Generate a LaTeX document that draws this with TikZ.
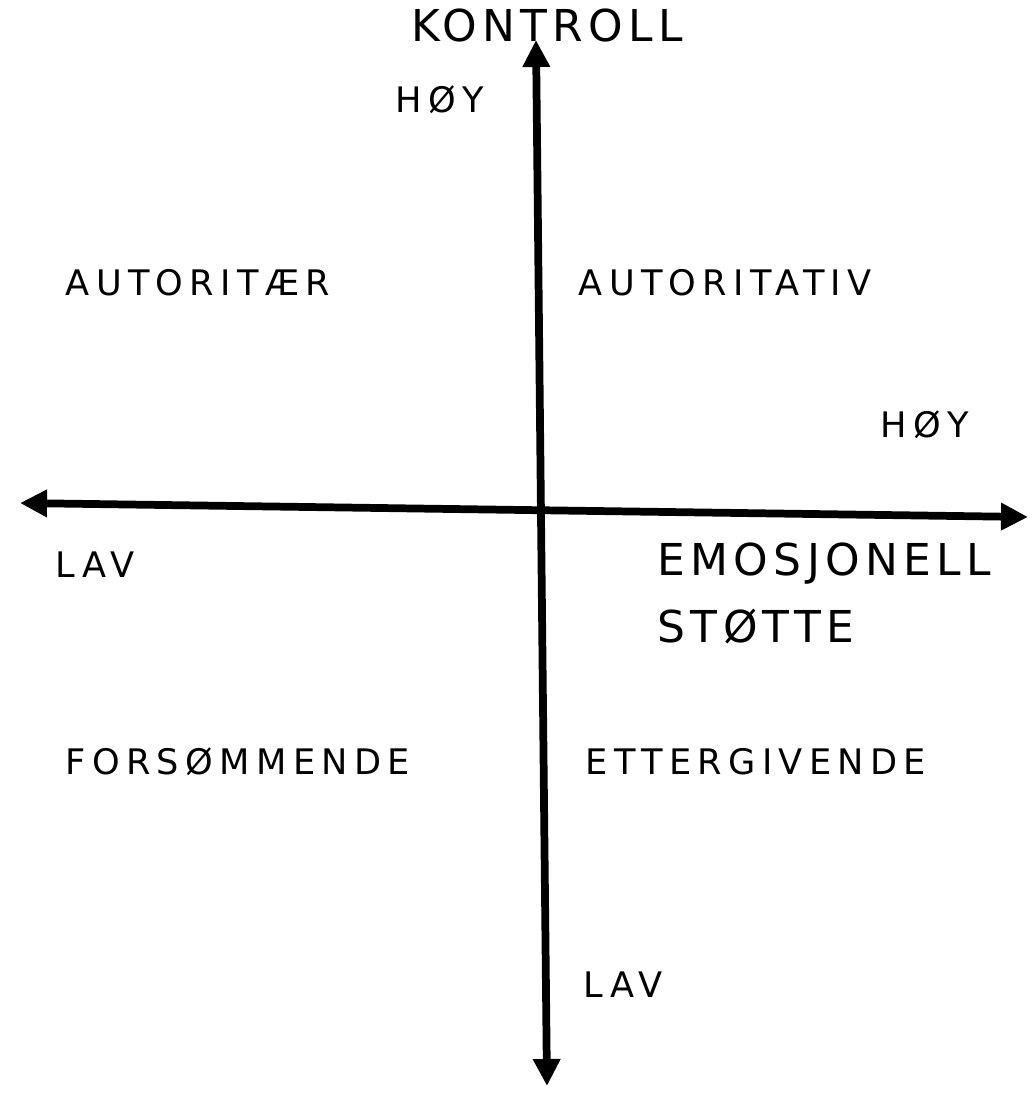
\documentclass[tikz,border=0pt]{standalone}
\usepackage{fontspec}
\setmainfont{DejaVu Sans}
\usetikzlibrary{arrows.meta}

\begin{document}
\begin{tikzpicture}
    [x=0.01cm, y=-0.01cm,
    axis/.style={line width=2.2pt, {Triangle[length=0.27cm, width=0.26cm]}-{Triangle[length=0.27cm, width=0.26cm]}},
    small/.style={inner sep=0pt, anchor=west, font=\fontsize{10}{12}\selectfont\addfontfeature{LetterSpace=18}},
    big/.style={inner sep=0pt, anchor=west, font=\fontsize{12.5}{15}\selectfont\addfontfeature{LetterSpace=12}}]
        \useasboundingbox (0,0) rectangle (1029,1093);
        %% axes
        \coordinate (top) at (536,40);
        \coordinate (bottom) at (547,1086);
        \coordinate (left) at (20,503);
        \coordinate (right) at (1028,517);

        \draw[axis] (bottom) to (top);
        \draw[axis] (left) to (right);

        %% labels
        \node[big, anchor=center] (kontroll) at (547,25) {KONTROLL};
        \node[small] (hoyY) at (395,100) {HØY};
        \node[small] (hoyX) at (880,425) {HØY};
        \node[small] (lavX) at (55,565) {LAV};
        \node[small] (lavY) at (583,985) {LAV};
        \node[big] (emosjonell) at (657,564) {EMOSJONELL};
        \node[big] (stotte) at (657,627) {STØTTE};

        %% quadrants
        \node[small] (autoritaer) at (65,283) {AUTORITÆR};
        \node[small] (autoritativ) at (578,283) {AUTORITATIV};
        \node[small] (forsommende) at (65,762) {FORSØMMENDE};
        \node[small] (ettergivende) at (585,762) {ETTERGIVENDE};
    \end{tikzpicture}
\end{document}
